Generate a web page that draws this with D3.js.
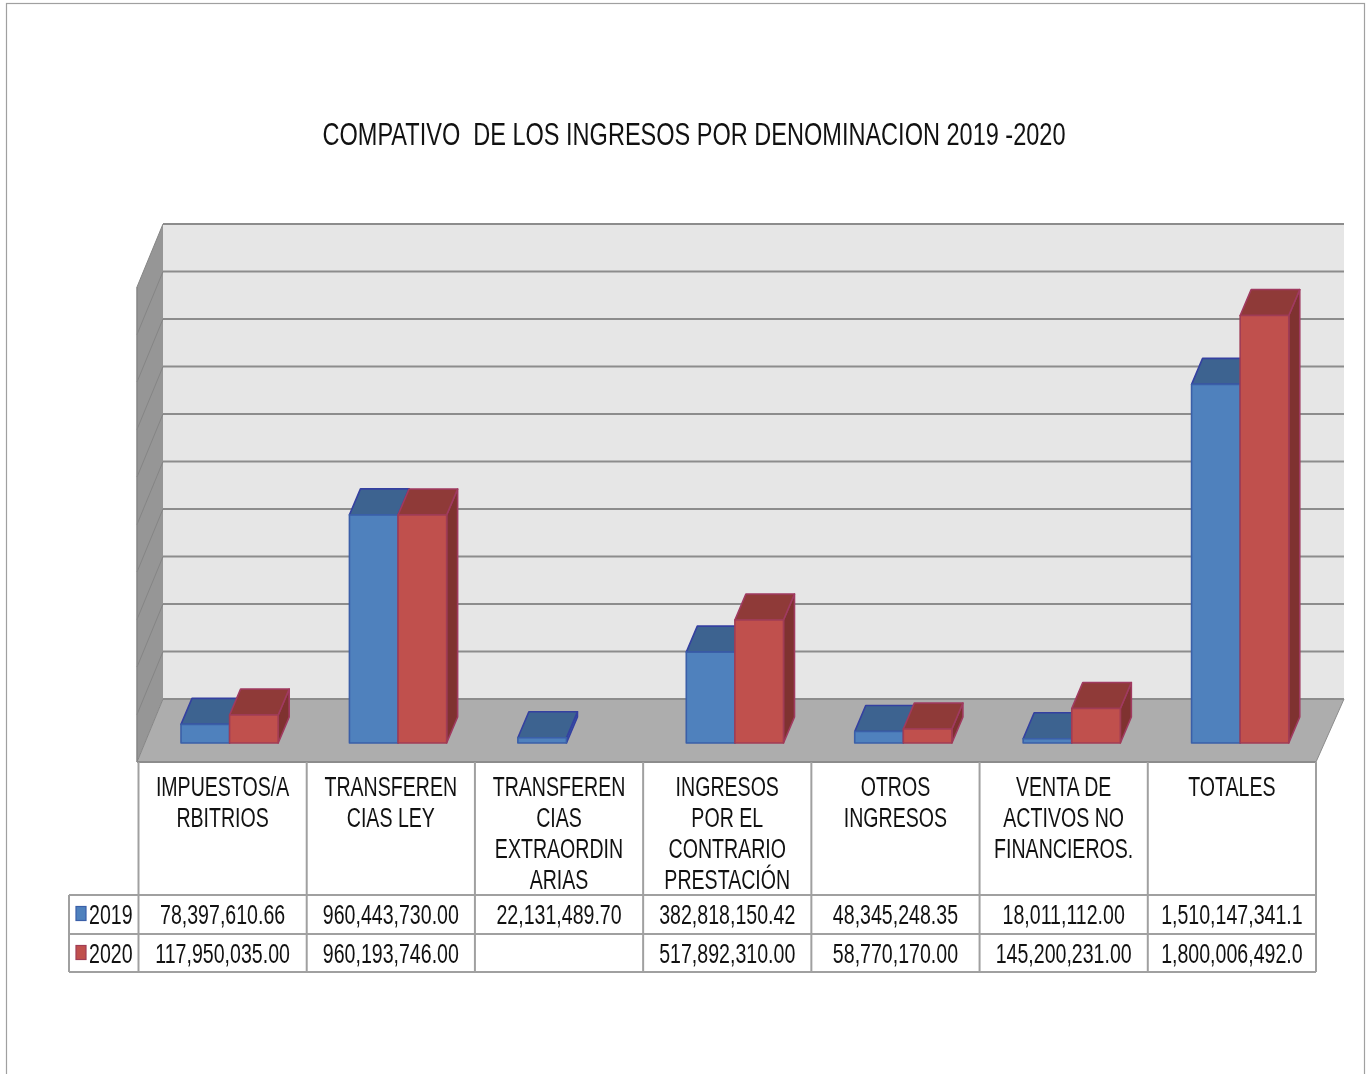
<!DOCTYPE html>
<html><head><meta charset="utf-8">
<script src="https://cdnjs.cloudflare.com/ajax/libs/d3/7.8.5/d3.min.js"></script>
<style>html,body{margin:0;padding:0;background:#fff;overflow:hidden}
svg{filter:blur(0.45px)}
text{font-family:"Liberation Sans",Arial,sans-serif;fill:#111}</style>
</head><body><svg id="c" width="1370" height="1074"></svg>
<script>
const chartTitle = "COMPATIVO  DE LOS INGRESOS POR DENOMINACION 2019 -2020";
const categories = ["IMPUESTOS/A|RBITRIOS","TRANSFEREN|CIAS LEY","TRANSFEREN|CIAS|EXTRAORDIN|ARIAS","INGRESOS|POR EL|CONTRARIO|PRESTACIÓN","OTROS|INGRESOS","VENTA DE|ACTIVOS NO|FINANCIEROS.","TOTALES"];
const seriesNames = ["2019","2020"];
const values2019 = [78397610.66,960443730,22131489.70,382818150.42,48345248.35,18011112,1510147341.1];
const values2020 = [117950035,960193746,null,517892310,58770170,145200231,1800006492];
const labels2019 = ["78,397,610.66","960,443,730.00","22,131,489.70","382,818,150.42","48,345,248.35","18,011,112.00","1,510,147,341.1"];
const labels2020 = ["117,950,035.00","960,193,746.00","","517,892,310.00","58,770,170.00","145,200,231.00","1,800,006,492.0"];
const gridTicks = [0,2e8,4e8,6e8,8e8,1e9,1.2e9,1.4e9,1.6e9,1.8e9,2e9];

const svg = d3.select("#c");
const GRID="#8c8c8c", BORDER="#a0a0a0";
svg.append("rect").attr("x",6.5).attr("y",3.5).attr("width",1358).attr("height",1090).attr("fill","#fff").attr("stroke",BORDER).attr("stroke-width",1.2);

const NARROW=0.725, FS=27;
function label(x,y,s,anchor){
  if(!s) return;
  const t=svg.append("text").attr("x",x).attr("y",y).attr("text-anchor",anchor||"middle").attr("font-size",FS).text(s);
  const w=t.node().getComputedTextLength();
  t.attr("textLength",w*NARROW).attr("lengthAdjust","spacingAndGlyphs");
}
svg.append("text").attr("x",694).attr("y",145).attr("text-anchor","middle").attr("font-size",32).attr("textLength",743).attr("lengthAdjust","spacingAndGlyphs").attr("xml:space","preserve").style("white-space","pre").text(chartTitle);

const x0 = d3.scaleBand().domain(d3.range(categories.length)).range([138.5,1316]);
const xBars = d3.scaleBand().domain(d3.range(categories.length)).range([139,1318]);
const yFront = d3.scaleLinear().domain([0,2e9]).range([762,287]);
const wallDx=26, wallDy=-63, barDx=11, barDy=-26, barBase=-19;
const line=d3.line();
const poly=(g,pts,fill,stroke)=>g.append("path").attr("d",line(pts)+"Z").attr("fill",fill).attr("stroke",stroke||"none").attr("stroke-width",stroke?1.6:0).attr("stroke-linejoin","round");

const frontL=137, frontR=1316;
const g=svg.append("g");
poly(g,[[frontL+wallDx,yFront(2e9)+wallDy],[frontR+wallDx+2,yFront(2e9)+wallDy],[frontR+wallDx+2,yFront(0)+wallDy],[frontL+wallDx,yFront(0)+wallDy]],"#e6e6e6");
poly(g,[[frontL,yFront(2e9)],[frontL+wallDx,yFront(2e9)+wallDy],[frontL+wallDx,yFront(0)+wallDy],[frontL,yFront(0)]],"#969696");
poly(g,[[frontL,yFront(0)],[frontL+wallDx,yFront(0)+wallDy],[frontR+wallDx+2,yFront(0)+wallDy],[frontR,yFront(0)]],"#adadad");
gridTicks.forEach(t=>{
  const y=yFront(t);
  g.append("line").attr("x1",frontL+wallDx).attr("x2",frontR+wallDx+2).attr("y1",y+wallDy).attr("y2",y+wallDy).attr("stroke",GRID).attr("stroke-width",2);
  g.append("line").attr("x1",frontL).attr("x2",frontL+wallDx).attr("y1",y).attr("y2",y+wallDy).attr("stroke","#858585").attr("stroke-width",1);
});
g.append("line").attr("x1",frontL).attr("x2",frontL).attr("y1",yFront(2e9)).attr("y2",yFront(0)).attr("stroke","#858585").attr("stroke-width",1.5);
g.append("line").attr("x1",frontL).attr("x2",frontR).attr("y1",762).attr("y2",762).attr("stroke",GRID).attr("stroke-width",2);
g.append("line").attr("x1",frontR).attr("x2",frontR+wallDx+2).attr("y1",762).attr("y2",699).attr("stroke",GRID).attr("stroke-width",1);

const bw=48.6, off=42;
const styles=[{f:"#4f81bd",t:"#3d6390",s:"#345fa8",e:"#3a5fa8",st:"#3440a0"},{f:"#c0504d",t:"#8f3a38",s:"#7f3230",e:"#a03c55",st:"#a03a60"}];
function bar(i,k,v){
  if(v==null) return;
  const c=styles[k], xl=xBars(i)+off+k*bw, xr=xl+bw, b=yFront(0)+barBase, top=yFront(v)+barBase;
  const G=svg.append("g");
  poly(G,[[xr,b],[xr+barDx,b+barDy],[xr+barDx,top+barDy],[xr,top]],c.s,c.st);
  poly(G,[[xl,top],[xl+barDx,top+barDy],[xr+barDx,top+barDy],[xr,top]],c.t,c.st);
  poly(G,[[xl,b],[xl,top],[xr,top],[xr,b]],c.f,c.e);
}
categories.forEach((_,i)=>{bar(i,0,values2019[i]);bar(i,1,values2020[i]);});

const rowY=[762,895,934,972], tblLeft=69;
const T=svg.append("g").attr("stroke",BORDER).attr("stroke-width",2);
const edges=d3.range(categories.length+1).map(i=>x0.range()[0]+i*x0.step());
edges.forEach(x=>T.append("line").attr("x1",x).attr("x2",x).attr("y1",rowY[0]).attr("y2",rowY[3]));
T.append("line").attr("x1",tblLeft).attr("x2",tblLeft).attr("y1",rowY[1]).attr("y2",rowY[3]);
rowY.slice(1).forEach(y=>T.append("line").attr("x1",tblLeft).attr("x2",edges[7]).attr("y1",y).attr("y2",y));
categories.forEach((c,i)=>{
  const cx=x0(i)+x0.step()/2;
  c.split("|").forEach((s,j)=>label(cx,796+j*31,s));
  label(cx,923.5,labels2019[i]);
  label(cx,962.5,labels2020[i]);
});
seriesNames.forEach((n,k)=>{
  const y=[923.5,962.5][k];
  svg.append("rect").attr("x",76).attr("y",y-17).attr("width",10).attr("height",14).attr("fill",styles[k].f).attr("stroke",styles[k].e).attr("stroke-width",1.2);
  label(89,y,n,"start");
});
</script></body></html>
